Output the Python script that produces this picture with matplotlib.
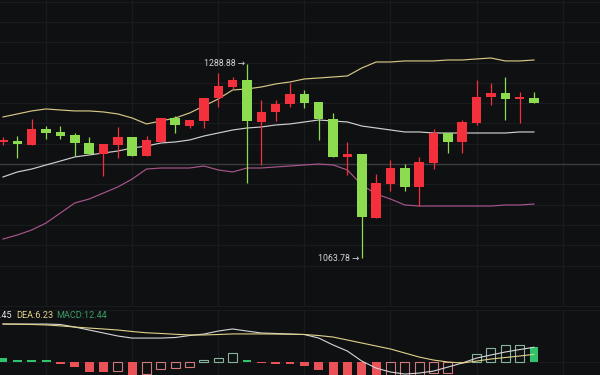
import numpy as np
import matplotlib
matplotlib.use('Agg')
import matplotlib.pyplot as plt

plt.rcParams['font.family'] = ['Roboto', 'DejaVu Sans']

# 行情数据
opens = [1198.4, 1199.5, 1194.9, 1213.5, 1210.0, 1206.5, 1197.2, 1184.5, 1194.9, 1204.2,
         1182.1, 1198.4, 1226.2, 1216.9, 1222.7, 1249.4, 1262.2, 1270.3, 1221.6, 1233.2,
         1242.5, 1254.1, 1244.8, 1225.1, 1181.0, 1184.5, 1110.2, 1149.6, 1168.2, 1146.2,
         1174.0, 1208.8, 1198.4, 1220.4, 1250.6, 1255.2, 1248.3, 1249.4]
closes = [1200.7, 1196.0, 1213.5, 1208.8, 1205.3, 1197.2, 1184.5, 1196.0, 1204.2, 1182.1,
          1200.7, 1226.2, 1218.1, 1223.9, 1249.4, 1263.3, 1270.3, 1222.7, 1233.2, 1242.5,
          1254.1, 1243.6, 1225.1, 1181.0, 1184.5, 1111.3, 1150.8, 1168.2, 1146.2, 1175.2,
          1208.8, 1198.4, 1221.6, 1250.6, 1255.2, 1248.3, 1250.6, 1243.6]
highs = [1204.2, 1205.3, 1225.1, 1216.9, 1216.9, 1208.8, 1204.2, 1196.0, 1215.8, 1204.2,
         1205.3, 1226.2, 1228.5, 1223.9, 1249.4, 1278.4, 1273.8, 1288.88, 1247.1, 1247.1,
         1266.8, 1258.7, 1244.8, 1232.0, 1198.4, 1184.5, 1161.2, 1177.5, 1172.8, 1181.0,
         1213.5, 1208.8, 1223.9, 1270.3, 1266.8, 1273.8, 1256.4, 1256.4]
lows = [1194.9, 1179.8, 1194.9, 1201.9, 1201.9, 1182.1, 1184.5, 1158.9, 1179.8, 1182.1,
        1182.1, 1198.4, 1208.8, 1214.6, 1214.6, 1239.0, 1259.9, 1150.8, 1171.7, 1222.7,
        1239.0, 1237.8, 1200.7, 1181.0, 1160.1, 1063.78, 1110.2, 1141.5, 1141.5, 1124.1,
        1167.0, 1185.6, 1185.6, 1218.1, 1241.3, 1223.9, 1220.4, 1243.6]

# 布林带
boll_upper = [1227.4, 1230.9, 1234.4, 1236.7, 1235.5, 1234.4, 1234.4, 1233.2, 1230.9, 1226.2,
              1219.3, 1222.7, 1226.2, 1232.0, 1240.1, 1248.3, 1258.7, 1259.9, 1262.2, 1265.7,
              1268.0, 1271.5, 1272.6, 1273.8, 1275.0, 1284.2, 1291.2, 1291.2, 1292.4, 1292.4,
              1292.4, 1293.5, 1293.5, 1294.7, 1295.8, 1292.4, 1292.4, 1293.5]
boll_mid = [1157.8, 1163.6, 1167.0, 1171.7, 1176.3, 1181.0, 1183.3, 1185.6, 1187.9, 1191.4,
            1193.7, 1197.2, 1198.4, 1200.7, 1205.3, 1208.8, 1212.3, 1214.6, 1215.8, 1218.1,
            1219.3, 1221.6, 1223.9, 1222.7, 1221.6, 1216.9, 1214.6, 1212.3, 1210.0, 1210.0,
            1208.8, 1208.8, 1208.8, 1208.8, 1208.8, 1208.8, 1210.0, 1210.0]
boll_lower = [1085.8, 1090.5, 1096.3, 1104.4, 1116.0, 1127.6, 1132.2, 1139.2, 1146.2, 1155.4,
              1167.0, 1168.2, 1168.2, 1168.2, 1170.5, 1165.9, 1163.6, 1168.2, 1168.2, 1169.4,
              1170.5, 1171.7, 1172.8, 1171.7, 1165.9, 1148.5, 1138.0, 1132.2, 1125.3, 1124.1,
              1124.1, 1124.1, 1124.1, 1124.1, 1124.1, 1125.3, 1125.3, 1126.4]

# MACD
dif = [32.6, 32.6, 32.6, 32.6, 32.2, 30.0, 27.4, 24.8, 22.2, 20.4,
       20.4, 20.4, 20.9, 22.6, 23.9, 26.5, 28.3, 26.5, 24.8, 24.4,
       23.9, 23.5, 20.4, 14.4, 9.1, 0.4, -5.7, -9.1, -10.9, -10.0,
       -8.3, -4.8, -1.3, 3.0, 5.7, 8.3, 10.4, 12.45]
dea = [32.6, 32.4, 32.2, 31.8, 31.0, 30.0, 29.1, 28.3, 27.4, 26.1,
       25.0, 24.4, 23.7, 23.1, 23.1, 23.5, 24.0, 24.0, 24.0, 23.9,
       23.7, 23.5, 22.6, 21.3, 18.7, 16.1, 13.5, 10.9, 7.4, 3.9,
       1.3, -0.4, -1.3, 0.4, 2.2, 3.5, 4.8, 6.23]
macd_hist = [3.5, 1.6, 1.4, 1.2, -1.8, -4.4, -8.7, -9.3, -8.1, -13.0,
             -10.7, -6.4, -5.8, -4.4, 1.0, 3.5, 7.5, 1.7, -1.7, -2.3,
             -2.4, -3.8, -7.5, -14.0, -19.0, -30.0, -36.0, -33.0, -28.0, -20.0,
             -10.0, -9.6, -0.5, 6.7, 11.9, 14.3, 14.6, 12.44]

BG = '#0f1012'
GRID = '#1a1b1f'
UP = '#f3303c'
DOWN = '#8ddc4f'


def draw_candles(ax):
    x = np.arange(len(opens))
    o = np.array(opens)
    c = np.array(closes)
    colors = [UP if cc >= oo else DOWN for oo, cc in zip(o, c)]
    ax.vlines(x, lows, highs, colors=colors, lw=0.9, zorder=3)
    body = np.maximum(np.abs(c - o), 1.4)
    ax.bar(x, body, bottom=np.minimum(o, c), width=0.66, color=colors, zorder=4)

    ax.plot(x, boll_upper, color='#d6c785', lw=0.85, zorder=2)
    ax.plot(x, boll_mid, color='#cfcfcf', lw=0.85, zorder=2)
    ax.plot(x, boll_lower, color='#a8558c', lw=0.85, zorder=2)

    # 最高/最低价标注
    hi = int(np.argmax(highs))
    lo = int(np.argmin(lows))
    ax.text(hi - 0.15, highs[hi], f'{highs[hi]:.2f} →', ha='right', va='center',
            fontsize=6.3, color='#d4d4d4', zorder=5)
    ax.text(lo - 0.15, lows[lo], f'{lows[lo]:.2f} →', ha='right', va='center',
            fontsize=6.3, color='#d4d4d4', zorder=5)


def draw_macd(ax):
    x = np.arange(len(macd_hist))
    for i, v in enumerate(macd_hist):
        rising = i > 0 and v >= macd_hist[i - 1]
        if v >= 0:
            fill, edge = '#2fc46c', '#86b49c'
        else:
            fill, edge = '#ea5257', '#cf7b7d'
        if rising:
            ax.bar(i, v, width=0.62, facecolor='none', edgecolor=edge, lw=0.8, zorder=3)
        else:
            ax.bar(i, v, width=0.62, color=fill, zorder=3)
    ax.plot(x, dif, color='#d6d6d6', lw=0.8, zorder=4)
    ax.plot(x, dea, color='#e0d18a', lw=0.8, zorder=4)
    ax.axhline(0, color=GRID, lw=0.8, zorder=1)

    # 左边的 DIF 标签在参考图中被截断
    ty = 0.908
    ax.text(11.5 / 600, ty, f'DIF:{dif[-1]:.2f}', transform=ax.transAxes, ha='right',
            va='center', fontsize=6.6, color='#e2e2e2')
    ax.text(16 / 600, ty, f'DEA:{dea[-1]:.2f}', transform=ax.transAxes, ha='left',
            va='center', fontsize=6.6, color='#e3d48a')
    ax.text(56 / 600, ty, f'MACD:{macd_hist[-1]:.2f}', transform=ax.transAxes, ha='left',
            va='center', fontsize=6.6, color='#3c9d68')


def main():
    fig = plt.figure(figsize=(6, 3.75), dpi=100, facecolor=BG)
    ax1 = fig.add_axes([0, 1 - 306 / 375, 1, 306 / 375])
    ax2 = fig.add_axes([0, 0, 1, 1 - 310 / 375])

    xlim = (-0.21, 41.6)
    vgrid = np.arange(3, 42, 6)
    for ax in (ax1, ax2):
        ax.set_facecolor(BG)
        ax.set_xlim(*xlim)
        for v in vgrid:
            ax.axvline(v, color=GRID, lw=0.9, zorder=0)
        ax.tick_params(left=False, bottom=False, labelleft=False, labelbottom=False)
        for s in ax.spines.values():
            s.set_visible(False)

    ax1.set_ylim(1008.1, 1363.1)
    for k in range(-5, 9):
        ax1.axhline(1172.8 + 23.55 * k, color=GRID, lw=0.9, zorder=0)
    ax1.axhline(1172.8, color='#3a3b3f', lw=1.0, zorder=1)
    ax1.spines['bottom'].set_visible(True)
    ax1.spines['bottom'].set_color(GRID)

    ax2.set_ylim(-11.7, 44.8)
    ax2.spines['top'].set_visible(True)
    ax2.spines['top'].set_color(GRID)

    draw_candles(ax1)
    draw_macd(ax2)

    fig.savefig('out.png', dpi=100, facecolor=BG)


if __name__ == "__main__":
    main()
